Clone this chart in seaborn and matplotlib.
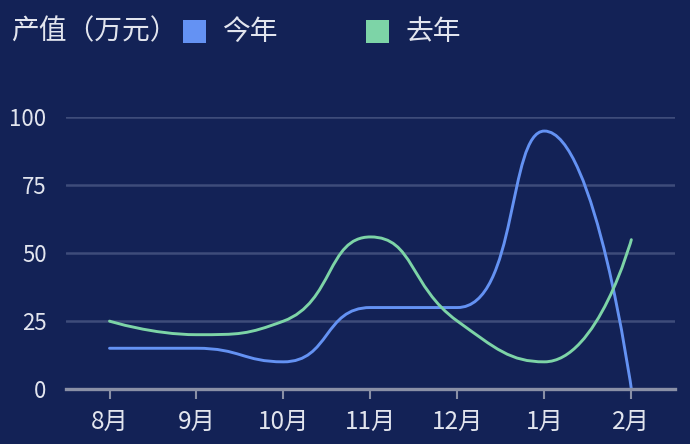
import numpy as np
import matplotlib
matplotlib.use("Agg")
import matplotlib.pyplot as plt
import seaborn as sns
from matplotlib.path import Path
from matplotlib.patches import PathPatch, Rectangle

# -------------------------
# Data
# -------------------------
months = ["8月", "9月", "10月", "11月", "12月", "1月", "2月"]
this_year = [15, 15, 10, 30, 30, 95, 0]
last_year = [25, 20, 25, 56, 25, 10, 55]

BG = "#132256"
BLUE = "#6492F3"
GREEN = "#7DD4A7"
TEXT = "#E2E5EE"

sns.set_theme(style="dark")
plt.rcParams["font.family"] = ["Noto Sans CJK SC", "DejaVu Sans"]


def smooth_path(xs, ys, sx, sy, smooth=0.5):
    # echarts-like smooth bezier, computed in pixel-ish space
    pts = [(x * sx, y * sy) for x, y in zip(xs, ys)]
    n = len(pts)
    verts = [pts[0]]
    codes = [Path.MOVETO]
    cp0 = pts[0]
    for k in range(1, n):
        x, y = pts[k]
        px, py = pts[k - 1]
        if k == n - 1:
            cp1 = (x, y)
            ncp = (x, y)
        else:
            nx, ny = pts[k + 1]
            vx, vy = nx - px, ny - py
            d0 = np.hypot(x - px, y - py)
            d1 = np.hypot(nx - x, ny - y)
            r = d1 / (d0 + d1)
            ncx = x + vx * smooth * r
            ncy = y + vy * smooth * r
            ncx = min(ncx, max(nx, x)); ncy = min(ncy, max(ny, y))
            ncx = max(ncx, min(nx, x)); ncy = max(ncy, min(ny, y))
            vx, vy = ncx - x, ncy - y
            cx = x - vx * d0 / d1
            cy = y - vy * d0 / d1
            cx = min(cx, max(px, x)); cy = min(cy, max(py, y))
            cx = max(cx, min(px, x)); cy = max(cy, min(py, y))
            vx, vy = x - cx, y - cy
            ncp = (x + vx * d1 / d0, y + vy * d1 / d0)
            cp1 = (cx, cy)
        verts += [cp0, cp1, (x, y)]
        codes += [Path.CURVE4] * 3
        cp0 = ncp
    verts = [(a / sx, b / sy) for a, b in verts]
    return Path(verts, codes)


fig = plt.figure(figsize=(6.9, 4.44), dpi=100, facecolor=BG)
ax = fig.add_axes([0.0957, 0.1239, 0.978 - 0.0957, 0.7354 - 0.1239])
ax.set_facecolor(BG)

xpos = np.arange(len(months))
# pixel scale: ~87 px per category, ~2.71 px per unit
for vals, color in [(this_year, BLUE), (last_year, GREEN)]:
    path = smooth_path(xpos, vals, 87.0, 2.71)
    ax.add_patch(PathPatch(path, facecolor="none", edgecolor=color, lw=2.1,
                           capstyle="round", joinstyle="round", zorder=3))

ax.set_xlim(-0.5, len(months) - 0.5)
ax.set_ylim(0, 100)
ax.set_yticks([0, 25, 50, 75, 100])
ax.set_xticks(xpos)
ax.set_xticklabels(months)
ax.grid(axis="y", color="#3E4C7A", lw=1.8)
ax.grid(axis="x", visible=False)
for s in ["top", "right", "left"]:
    ax.spines[s].set_visible(False)
ax.spines["bottom"].set_color("#8A90A6")
ax.spines["bottom"].set_linewidth(2.4)
ax.spines["bottom"].set_zorder(4)
ax.tick_params(axis="x", colors="#8A90A6", length=7, width=1.5, direction="out",
               labelcolor=TEXT, labelsize=17.5, pad=7, bottom=True)
ax.tick_params(axis="y", length=0, labelcolor=TEXT, labelsize=16, pad=14)

# title and legend
fig.text(11 / 690, 1 - 31.5 / 444, "产值（万元）", color=TEXT, fontsize=20,
         va="center", ha="left")
for x0, label, color in [(182.7, "今年", BLUE), (366, "去年", GREEN)]:
    fig.patches.append(Rectangle((x0 / 690, 1 - 43 / 444), 23 / 690, 23 / 444,
                                 transform=fig.transFigure, facecolor=color,
                                 edgecolor="none"))
    fig.text((x0 + 39) / 690, 1 - 31.5 / 444, label, color=TEXT, fontsize=20,
             va="center", ha="left")

fig.savefig("out.png", dpi=100, facecolor=BG)
